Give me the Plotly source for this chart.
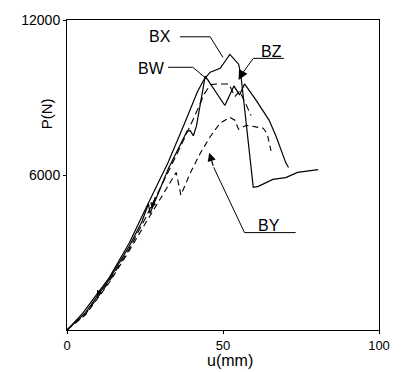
import plotly.graph_objects as go

# ---- data (u in mm, P in N) ----
bx_u = [0, 5, 13.5, 20, 25.2, 32.4, 37.7, 41.8, 44.0, 45.9, 49.1, 50.6, 52.2, 55.0, 55.7, 59.7, 61.3, 66.0, 70.1, 73.9, 80.5]
bx_p = [0, 640, 2020, 3380, 4690, 6480, 8000, 9220, 9715, 9980, 10130, 10400, 10670, 10290, 9900, 5520, 5560, 5830, 5900, 6100, 6210]

bw_u = [0, 6, 13.5, 20, 24.0, 26.1, 26.6, 32.5, 38.5, 39.5, 40.5, 41.5, 44.3, 47.5, 50.6, 53.5, 55.3, 56.9, 60.7, 64.8, 67.0, 70.1, 71.0]
bw_p = [0, 680, 1950, 3250, 4190, 4890, 4510, 6250, 7700, 7720, 7520, 7900, 9830, 9250, 8690, 9450, 9100, 9525, 8880, 8115, 7500, 6480, 6290]

bz_u = [0, 6, 13.5, 20, 25, 30, 35, 38.5, 40.9, 44.0, 46.0, 48.1, 51.9, 53.8, 55.3, 57.5, 59.0]
bz_p = [0, 620, 1880, 3150, 4300, 5500, 6750, 7650, 8270, 9140, 9500, 9525, 9525, 9030, 9250, 8700, 8300]

by_u = [0, 6, 13.5, 20, 25, 30, 35.0, 36.5, 39.6, 42.8, 46.0, 49.0, 52.2, 53.8, 55.0, 57.5, 62.9, 64.2, 65.4]
by_p = [0, 600, 1830, 3080, 4100, 5100, 6100, 5220, 6100, 6860, 7500, 8000, 8230, 8120, 7770, 7925, 7810, 7580, 6930]

x_ticks = [0, 50, 100]
y_ticks = [6000, 12000]

fig = go.Figure()
line_black = dict(color="black", width=1.2)
fig.add_trace(go.Scatter(x=bx_u, y=bx_p, mode="lines", name="BX", line=line_black))
fig.add_trace(go.Scatter(x=bw_u, y=bw_p, mode="lines", name="BW", line=line_black))
fig.add_trace(go.Scatter(x=bz_u, y=bz_p, mode="lines", name="BZ",
                         line=dict(color="black", width=1.1, dash="7px,4px")))
fig.add_trace(go.Scatter(x=by_u, y=by_p, mode="lines", name="BY",
                         line=dict(color="black", width=1.1, dash="6px,4px")))

lab_font = dict(family="Liberation Sans Narrow, Liberation Sans, Arial", size=16, color="black")

# label texts
labels = [("BX", 29.9, 11350), ("BW", 27.0, 10130), ("BZ", 65.4, 10800), ("BY", 64.8, 4050)]
for t, lx, ly in labels:
    fig.add_annotation(x=lx, y=ly, text=t, showarrow=False, font=lab_font, xref="x", yref="y")

# leader lines
leaders = [
    [(36.2, 11350), (45.9, 11350), (50.0, 10550)],
    [(32.4, 10170), (40.3, 10170), (45.6, 9640)],
    [(69.5, 10515), (59.7, 10515), (56.0, 9900)],
    [(73.3, 3770), (56.9, 3770), (47.0, 6300)],
]
for pts in leaders:
    path = "M " + " L ".join(f"{a},{b}" for a, b in pts)
    fig.add_shape(type="path", path=path, xref="x", yref="y", line=dict(color="black", width=1))

# arrowheads
arrows = [
    (55.0, 9680, 56.0, 9900, 1.6),
    (45.6, 6860, 47.0, 6300, 1.4),
    (27.0, 4700, 28.5, 5200, 1.0),
    (9.5, 1300, 11.0, 1600, 1.0),
]
for x, y, ax, ay, sz in arrows:
    fig.add_annotation(x=x, y=y, ax=ax, ay=ay, xref="x", yref="y", axref="x", ayref="y",
                       text="", showarrow=True, arrowhead=2, arrowsize=sz, arrowwidth=1.2,
                       arrowcolor="black")

# axis titles
fig.add_annotation(x=-0.098, y=0.755, text="P(N)", textangle=-90, showarrow=False,
                   font=dict(family="Liberation Sans, Arial", size=15, color="black"),
                   xref="paper", yref="paper")
fig.add_annotation(x=0.522, y=-0.131, text="u(mm)", showarrow=False, yanchor="bottom",
                   font=dict(family="Liberation Sans, Arial", size=16, color="black"),
                   xref="paper", yref="paper")

axis_common = dict(showgrid=False, zeroline=False, showline=True, linecolor="black",
                   linewidth=1, mirror=True, ticks="outside", ticklen=3, tickcolor="black",
                   tickfont=dict(family="Liberation Sans, Arial", size=14, color="black"))
fig.update_xaxes(range=[0, 100], tickvals=x_ticks, ticktext=[str(v) for v in x_ticks], **axis_common)
fig.update_xaxes(tickfont=dict(size=13))
fig.update_yaxes(range=[0, 12000], tickvals=y_ticks, ticktext=[str(v) for v in y_ticks], **axis_common)

fig.update_layout(width=402, height=372, margin=dict(l=67, r=17, t=15, b=42),
                  plot_bgcolor="white", paper_bgcolor="white", showlegend=False)

fig.write_html("out.html")
